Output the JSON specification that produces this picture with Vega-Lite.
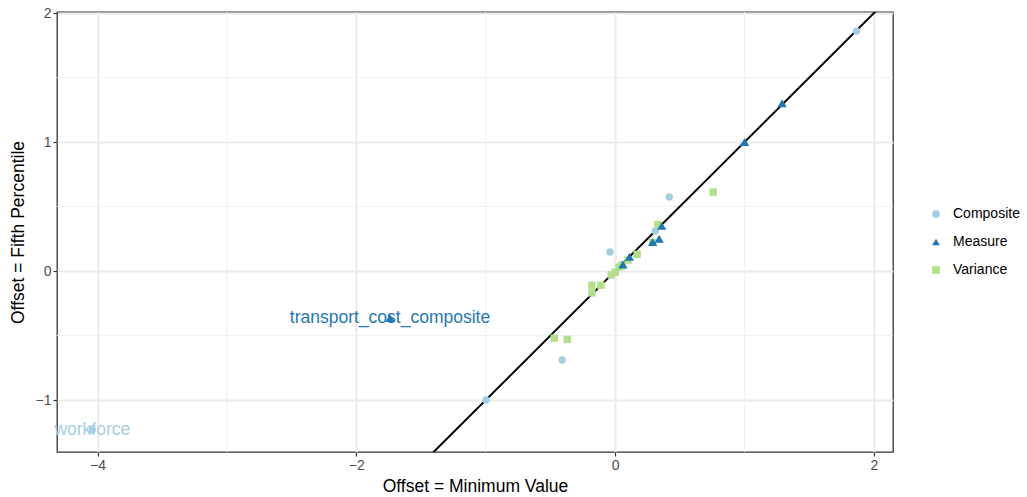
{
  "$schema": "https://vega.github.io/schema/vega-lite/v6.json",
  "width": 836,
  "height": 440,
  "autosize": {"type": "none"},
  "padding": {"left": 57, "top": 12, "right": 134, "bottom": 45},
  "background": "white",
  "config": {
    "font": "Liberation Sans",
    "view": {"stroke": "#333333", "strokeWidth": 1.3},
    "axis": {
      "grid": true,
      "gridColor": "#ebebeb",
      "gridWidth": 2,
      "domain": false,
      "tickColor": "#333333",
      "tickSize": 4,
      "tickWidth": 1.2,
      "labelColor": "#4d4d4d",
      "labelFontSize": 14,
      "labelPadding": 2,
      "format": "d",
      "titleColor": "black",
      "titleFontSize": 17.5,
      "titleFontWeight": "normal"
    },
    "legend": {
      "labelFontSize": 14,
      "labelColor": "black",
      "labelOffset": 10
    }
  },
  "datasets": {
    "pts": [
      {"x": 1.865, "y": 1.86, "type": "Composite", "label": ""},
      {"x": 0.418, "y": 0.574, "type": "Composite", "label": ""},
      {"x": -0.04, "y": 0.147, "type": "Composite", "label": ""},
      {"x": -0.41, "y": -0.69, "type": "Composite", "label": ""},
      {"x": -0.998, "y": -1.0, "type": "Composite", "label": ""},
      {"x": 0.31, "y": 0.31, "type": "Composite", "label": ""},
      {"x": 0.05, "y": 0.05, "type": "Composite", "label": ""},
      {"x": -4.04, "y": -1.23, "type": "Composite", "label": "workforce"},
      {"x": 1.29, "y": 1.3, "type": "Measure", "label": ""},
      {"x": 1.0, "y": 1.0, "type": "Measure", "label": ""},
      {"x": 0.36, "y": 0.35, "type": "Measure", "label": ""},
      {"x": 0.34, "y": 0.25, "type": "Measure", "label": ""},
      {"x": 0.29, "y": 0.225, "type": "Measure", "label": ""},
      {"x": 0.11, "y": 0.11, "type": "Measure", "label": ""},
      {"x": 0.06, "y": 0.05, "type": "Measure", "label": ""},
      {"x": -1.74, "y": -0.364, "type": "Measure", "label": "transport_cost_composite"},
      {"x": 0.758, "y": 0.612, "type": "Variance", "label": ""},
      {"x": 0.33, "y": 0.36, "type": "Variance", "label": ""},
      {"x": 0.29, "y": 0.22, "type": "Variance", "label": ""},
      {"x": 0.17, "y": 0.13, "type": "Variance", "label": ""},
      {"x": 0.1, "y": 0.085, "type": "Variance", "label": ""},
      {"x": 0.03, "y": 0.03, "type": "Variance", "label": ""},
      {"x": 0.0, "y": -0.01, "type": "Variance", "label": ""},
      {"x": -0.03, "y": -0.03, "type": "Variance", "label": ""},
      {"x": 0.05, "y": 0.04, "type": "Variance", "label": ""},
      {"x": -0.11, "y": -0.11, "type": "Variance", "label": ""},
      {"x": -0.18, "y": -0.11, "type": "Variance", "label": ""},
      {"x": -0.18, "y": -0.17, "type": "Variance", "label": ""},
      {"x": -0.47, "y": -0.52, "type": "Variance", "label": ""},
      {"x": -0.37, "y": -0.53, "type": "Variance", "label": ""}
    ]
  },
  "layer": [
    {
      "data": {"values": [{"x": -3}, {"x": -1}, {"x": 1}]},
      "mark": {"type": "rule", "color": "#f2f2f2", "strokeWidth": 1},
      "encoding": {
        "x": {"field": "x", "type": "quantitative", "scale": {"domain": [-4.313, 2.147], "nice": false, "zero": false},
              "axis": {"values": [-4, -2, 0, 2], "title": "Offset = Minimum Value", "titlePadding": 5}}
      }
    },
    {
      "data": {"values": [{"y": -0.5}, {"y": 0.5}, {"y": 1.5}]},
      "mark": {"type": "rule", "color": "#f2f2f2", "strokeWidth": 1},
      "encoding": {
        "y": {"field": "y", "type": "quantitative", "scale": {"domain": [-1.403, 2.008], "nice": false, "zero": false},
              "axis": {"values": [-1, 0, 1, 2], "title": "Offset = Fifth Percentile", "titlePadding": 8}}
      }
    },
    {
      "data": {"values": [{"x": -5, "y": -5}, {"x": 3, "y": 3}]},
      "mark": {"type": "line", "color": "black", "strokeWidth": 2, "clip": true},
      "encoding": {
        "x": {"field": "x", "type": "quantitative", "scale": {"domain": [-4.313, 2.147], "nice": false, "zero": false}, "title": "Offset = Minimum Value"},
        "y": {"field": "y", "type": "quantitative", "scale": {"domain": [-1.403, 2.008], "nice": false, "zero": false}, "title": "Offset = Fifth Percentile"}
      }
    },
    {
      "data": {"name": "pts"},
      "transform": [{"filter": "datum.label != ''"}],
      "mark": {"type": "text", "fontSize": 17.5, "align": "center", "baseline": "middle"},
      "encoding": {
        "x": {"field": "x", "type": "quantitative", "scale": {"domain": [-4.313, 2.147], "nice": false, "zero": false}, "title": "Offset = Minimum Value"},
        "y": {"field": "y", "type": "quantitative", "scale": {"domain": [-1.403, 2.008], "nice": false, "zero": false}, "title": "Offset = Fifth Percentile"},
        "text": {"field": "label"},
        "color": {"field": "type", "type": "nominal",
                  "scale": {"domain": ["Composite", "Measure", "Variance"], "range": ["#a6cee3", "#1f78b4", "#b2df8a"]},
                  "legend": {"title": null, "orient": "none", "legendX": 872, "legendY": 195, "rowPadding": 14, "symbolSize": 60}}
      }
    },
    {
      "data": {"name": "pts"},
      "transform": [{"filter": "datum.type != 'Measure'"}],
      "mark": {"type": "point", "filled": true, "opacity": 1, "size": 55},
      "encoding": {
        "x": {"field": "x", "type": "quantitative", "scale": {"domain": [-4.313, 2.147], "nice": false, "zero": false}, "title": "Offset = Minimum Value"},
        "y": {"field": "y", "type": "quantitative", "scale": {"domain": [-1.403, 2.008], "nice": false, "zero": false}, "title": "Offset = Fifth Percentile"},
        "color": {"field": "type", "type": "nominal",
                  "scale": {"domain": ["Composite", "Measure", "Variance"], "range": ["#a6cee3", "#1f78b4", "#b2df8a"]},
                  "legend": {"title": null, "orient": "none", "legendX": 872, "legendY": 195, "rowPadding": 14, "symbolSize": 60}},
        "shape": {"field": "type", "type": "nominal",
                  "scale": {"domain": ["Composite", "Measure", "Variance"], "range": ["circle", "triangle-up", "square"]},
                  "legend": {"title": null, "orient": "none", "legendX": 872, "legendY": 195, "rowPadding": 14, "symbolSize": 60}}
      }
    },
    {
      "data": {"name": "pts"},
      "transform": [{"filter": "datum.type == 'Measure'"}],
      "mark": {"type": "point", "filled": true, "opacity": 1, "size": 85},
      "encoding": {
        "x": {"field": "x", "type": "quantitative", "scale": {"domain": [-4.313, 2.147], "nice": false, "zero": false}, "title": "Offset = Minimum Value"},
        "y": {"field": "y", "type": "quantitative", "scale": {"domain": [-1.403, 2.008], "nice": false, "zero": false}, "title": "Offset = Fifth Percentile"},
        "color": {"field": "type", "type": "nominal",
                  "scale": {"domain": ["Composite", "Measure", "Variance"], "range": ["#a6cee3", "#1f78b4", "#b2df8a"]},
                  "legend": {"title": null, "orient": "none", "legendX": 872, "legendY": 195, "rowPadding": 14, "symbolSize": 60}},
        "shape": {"field": "type", "type": "nominal",
                  "scale": {"domain": ["Composite", "Measure", "Variance"], "range": ["circle", "triangle-up", "square"]},
                  "legend": {"title": null, "orient": "none", "legendX": 872, "legendY": 195, "rowPadding": 14, "symbolSize": 60}}
      }
    }
  ]
}
